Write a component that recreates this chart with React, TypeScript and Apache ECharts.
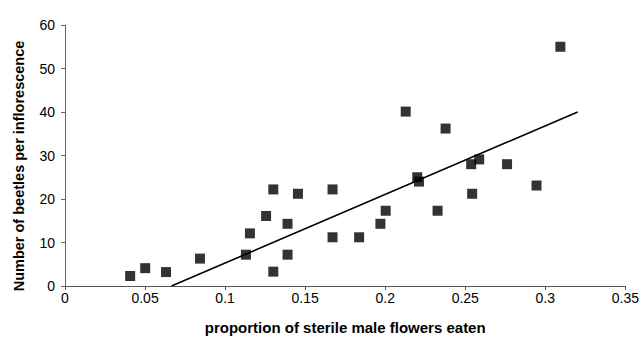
import React, { useEffect, useRef } from "react";
import * as echarts from "echarts";

const propEaten: number[] = [
  0.0407, 0.0501, 0.0631, 0.0843, 0.113, 0.1155, 0.1256, 0.1301, 0.1301, 0.139,
  0.139, 0.1455, 0.1671, 0.1671, 0.1837, 0.197, 0.2003, 0.2128, 0.22, 0.2211,
  0.2327, 0.2377, 0.2537, 0.2543, 0.2587, 0.2761, 0.2945, 0.3094,
];
const beetles: number[] = [
  2.3, 4.1, 3.2, 6.3, 7.2, 12.1, 16.1, 22.2, 3.3, 14.3,
  7.2, 21.2, 22.2, 11.2, 11.2, 14.3, 17.3, 40.1, 25, 24,
  17.3, 36.2, 28.0, 21.2, 29.1, 28.0, 23.1, 55.0,
];
const trendX: number[] = [0.0665, 0.3202];
const trendY: number[] = [0, 40];

const xTitle = "proportion of sterile male flowers eaten";
const yTitle = "Number of beetles per inflorescence";

export default function App() {
  const ref = useRef<HTMLDivElement>(null);
  useEffect(() => {
    if (!ref.current) return;
    const chart = echarts.init(ref.current, undefined, { renderer: "svg" });
    const font = "Arial, 'Liberation Sans', sans-serif";
    chart.setOption({
      animation: false,
      backgroundColor: "#fff",
      grid: { left: 65, right: 15, top: 25, bottom: 51 },
      xAxis: {
        type: "value",
        min: 0,
        max: 0.35,
        interval: 0.05,
        name: xTitle,
        nameLocation: "middle",
        nameGap: 34,
        nameTextStyle: { fontFamily: font, fontSize: 15, fontWeight: "bold", color: "#000" },
        axisLine: { show: true, onZero: false, lineStyle: { color: "#555", width: 1 } },
        axisTick: { show: true, length: 4, lineStyle: { color: "#555" } },
        axisLabel: { fontFamily: font, fontSize: 14, color: "#000", margin: 5 },
        splitLine: { show: false },
      },
      yAxis: {
        type: "value",
        min: 0,
        max: 60,
        interval: 10,
        axisLine: { show: true, lineStyle: { color: "#666", width: 1 } },
        axisTick: { show: true, length: 4, lineStyle: { color: "#666" } },
        axisLabel: { fontFamily: font, fontSize: 14, color: "#000", margin: 10 },
        splitLine: { show: false },
      },
      graphic: [
        {
          type: "text",
          x: 19,
          y: 166,
          rotation: Math.PI / 2,
          style: {
            text: yTitle,
            fontFamily: font,
            fontSize: 14.5,
            fontWeight: "bold",
            fill: "#000",
            textAlign: "center",
            textVerticalAlign: "middle",
          },
        },
      ],
      series: [
        {
          type: "scatter",
          symbol: "rect",
          symbolSize: 10,
          itemStyle: { color: "#000" },
          data: propEaten.map((x, i) => [x, beetles[i]]),
        },
        {
          type: "line",
          symbol: "none",
          lineStyle: { color: "#000", width: 1.6 },
          data: trendX.map((x, i) => [x, trendY[i]]),
        },
      ],
    });
    return () => chart.dispose();
  }, []);
  return (
    <div
      ref={ref}
      style={{ position: "absolute", left: 0, top: 0, width: 642, height: 340 }}
    />
  );
}
